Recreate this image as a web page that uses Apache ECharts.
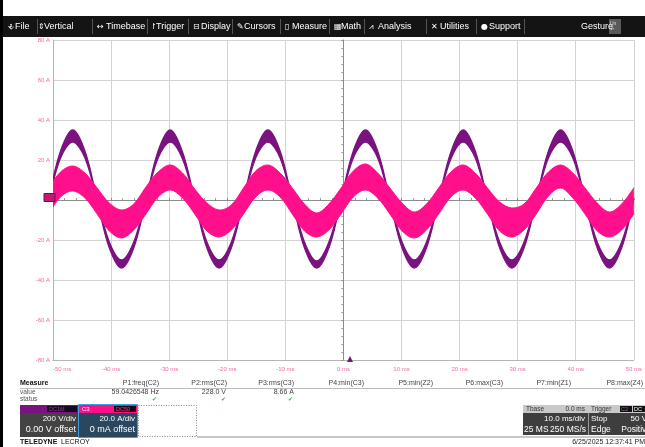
<!DOCTYPE html>
<html>
<head>
<meta charset="utf-8">
<script src="https://cdn.jsdelivr.net/npm/echarts@6/dist/echarts.min.js"></script>
<style>
html,body{margin:0;padding:0;background:#fff;}
#chart{width:645px;height:447px;}
</style>
</head>
<body>
<div id="chart"></div>
<script>
// ---- Data (time in ms, values on the A scale) ----
const timeMs = [-50.8,-48.7,-46.6,-44.5,-42.4,-40.3,-38.2,-36.1,
  -34.0,-31.9,-29.8,-27.7,-25.6,-23.5,-21.4,-19.3,
  -17.2,-15.1,-13.0,-10.9,-8.8,-6.7,-4.6,-2.5,
  -0.4,1.7,3.8,5.9,8.0,10.1,12.2,14.3,
  16.4,18.5,20.6,22.7,24.8,26.9,29.0,31.1,
  33.2,35.3,37.4,39.5,41.6,43.7,45.8,47.9,
  50.0,52.1];
// C2 (voltage, purple) outer/inner envelope of the noisy trace
const c2Hi = [0.6,24.5,35.0,24.5,0.6,-21.0,-30.0,-21.0,
  0.5,24.5,35.0,24.0,0.6,-21.0,-30.0,-21.0,
  0.6,24.5,35.0,24.5,0.5,-21.0,-30.5,-21.0,
  0.6,24.5,35.0,24.5,0.6,-21.0,-30.0,-21.0,
  0.6,24.0,35.0,24.5,0.6,-21.0,-30.0,-21.0,
  0.6,24.5,35.0,24.5,0.6,-21.0,-30.0,-21.0,
  0.6,24.5];
const c2Lo = [-0.6,21.0,29.0,21.0,-0.6,-24.0,-34.0,-24.0,
  -0.5,21.0,29.0,20.5,-0.6,-24.0,-34.0,-24.0,
  -0.6,21.0,29.0,21.0,-0.5,-24.0,-34.0,-24.0,
  -0.6,21.0,29.0,21.0,-0.6,-24.0,-34.0,-24.0,
  -0.6,20.5,29.0,21.0,-0.6,-24.0,-34.0,-24.0,
  -0.6,21.0,29.0,21.0,-0.6,-24.0,-34.0,-24.0,
  -0.6,21.0];
// C3 (current, pink) upper/lower envelope of the noisy band
const c3Hi = [6.0,14.0,17.0,13.5,6.0,-1.5,-5.0,-2.0,
  6.5,14.0,17.5,13.5,5.5,-1.5,-5.0,-2.5,
  6.0,14.5,17.5,13.5,6.0,-2.0,-6.5,-2.0,
  6.0,14.5,18.0,13.5,6.0,-1.5,-6.0,-2.0,
  6.0,14.0,17.5,13.5,6.0,-1.0,-4.0,-2.0,
  6.0,14.0,17.5,13.5,6.0,-1.5,-6.0,-2.0,
  6.0,14.0];
const c3Lo = [-7.0,1.5,4.5,1.0,-7.0,-15.5,-19.0,-15.0,
  -7.0,1.5,5.0,1.0,-7.0,-15.5,-18.5,-15.0,
  -7.0,1.5,5.0,1.5,-7.0,-15.5,-18.5,-15.0,
  -7.0,1.5,5.0,1.0,-7.0,-15.5,-19.0,-15.0,
  -7.0,1.5,5.0,1.0,-7.0,-15.5,-18.5,-15.0,
  -7.0,2.0,6.0,1.0,-7.0,-15.5,-18.5,-15.0,
  -7.0,1.5];
const xTickLabels = ['-50 ms','-40 ms','-30 ms','-20 ms','-10 ms','0 ms','10 ms','20 ms','30 ms','40 ms','50 ms'];
const yTickLabels = ['-80 A','-60 A','-40 A','-20 A','0','20 A','40 A','60 A','80 A'];
const menuItems = [['\u2380','File',8,15],['\u21D5','Vertical',38,44],['\u2194','Timebase',97,106],['\u21BE','Trigger',150,156],
  ['\u229F','Display',193,201],['\u270E','Cursors',237,244],['\u25AF','Measure',285,292],['\u25A6','Math',334,341],
  ['\u2A58','Analysis',369,378],['\u2715','Utilities',431,440],['\u25CF','Support',481,489]];
const menuSeps = [37,92,147,188,232,280,329,364,426,476,524];
const measHeaders = [['P1:freq(C2)',159],['P2:rms(C2)',227],['P3:rms(C3)',294],['P4:min(C3)',364],['P5:min(Z2)',433],['P6:max(C3)',503],['P7:min(Z1)',571],['P8:max(Z4)',643]];
const measValues = [['59.0426548 Hz',159],['228.0 V',226],['8.66 A',294]];

const PURPLE = '#7a137f', PINK = '#ff0f8b', LBL = '#f06aa6';
const FONT = "'Liberation Sans Narrow','Liberation Sans',Arial,sans-serif";

function bandSeries(name, lo, hi, color, lw, z) {
  return {
    name: name, type: 'custom', coordinateSystem: 'cartesian2d', xAxisIndex: 0, yAxisIndex: 0,
    silent: true, z: z,
    data: timeMs.map((t, i) => [t, lo[i], hi[i]]),
    encode: { x: 0, y: [1, 2] },
    renderItem: function (params, api) {
      if (params.dataIndexInside !== 0) return null;
      const n = params.dataInsideLength;
      const up = [], dn = [];
      for (let j = 0; j < n; j++) {
        const t = api.value(0, j);
        up.push(api.coord([t, api.value(2, j)]));
        dn.push(api.coord([t, api.value(1, j)]));
      }
      const rev = dn.slice().reverse();
      const pts = [up[0]].concat(up, [up[n - 1]], rev, [dn[0]]);
      const cs = params.coordSys;
      return {
        type: 'group',
        clipPath: { type: 'rect', shape: { x: cs.x, y: cs.y, width: cs.width, height: cs.height } },
        children: [{
          type: 'polygon', shape: { points: pts, smooth: 0.35 },
          style: { fill: color, stroke: color, lineWidth: lw }
        }]
      };
    }
  };
}

function T(x, y, text, o) {
  o = o || {};
  return { type: 'text', x: x, y: y, z: 100, silent: true,
    style: { text: text, fill: o.fill || '#222', fontSize: o.size || 7, fontFamily: o.family || FONT,
      fontWeight: o.weight || 'normal', align: o.align || 'left', textAlign: o.align || 'left',
      verticalAlign: 'middle', textVerticalAlign: 'middle' } };
}
function R(x, y, w, h, fill, stroke, lw, dash) {
  return { type: 'rect', z: 90, silent: true, shape: { x: x, y: y, width: w, height: h },
    style: { fill: fill || 'none', stroke: stroke || 'none', lineWidth: lw || 0, lineDash: dash || null } };
}
function L(x1, y1, x2, y2, color, lw) {
  return { type: 'line', z: 90, silent: true, shape: { x1: x1, y1: y1, x2: x2, y2: y2 },
    style: { stroke: color, lineWidth: lw || 1 } };
}

const g = [];
g.push(R(0, 0, 3, 447, '#000'));
g.push(R(3, 16, 642, 21, '#141414'));
menuItems.forEach(m => {
  g.push(T(m[2], 26.5, m[0], { fill: '#fff', size: 8, family: "'DejaVu Sans',sans-serif" }));
  g.push(T(m[3], 26.5, m[1], { fill: '#fff', size: 9 }));
});
menuSeps.forEach(x => g.push(L(x + 0.5, 19, x + 0.5, 34, '#555', 1)));
g.push(T(581, 26.5, 'Gesture', { fill: '#fff', size: 9 }));
g.push(R(609, 19, 12, 15, '#5a5a5a'));
g.push(T(610, 24, 'Un', { fill: '#ddd', size: 5 }));
g.push(T(610, 30, '\u21B6', { fill: '#ddd', size: 5, family: "'DejaVu Sans',sans-serif" }));

// ground marker & trigger marker
g.push(R(44, 193.5, 11, 8, '#c4196f', '#6b0a6e', 1));
g.push({ type: 'polygon', z: 95, silent: true, shape: { points: [[347, 362], [353, 362], [350, 356]] }, style: { fill: '#7a137f' } });

// measure table
g.push(T(20, 383, 'Measure', { weight: 'bold', size: 7, fill: '#111' }));
measHeaders.forEach(h => g.push(T(h[1], 383, h[0], { align: 'right', size: 7, fill: '#444' })));
g.push(L(20, 388.5, 645, 388.5, '#bbb', 1));
g.push(T(20, 392, 'value', { size: 6.5, fill: '#555' }));
g.push(T(20, 399, 'status', { size: 6.5, fill: '#555' }));
measValues.forEach(v => g.push(T(v[1], 392, v[0], { align: 'right', size: 7, fill: '#444' })));
[157, 226, 293].forEach(x => g.push(T(x, 399, '\u2714', { align: 'right', size: 6, fill: '#3cb43c', family: "'DejaVu Sans',sans-serif" })));

// channel C2
g.push(R(20, 405, 58, 8, PURPLE));
g.push(R(47, 406, 30, 6, '#1a0820'));
g.push(T(49, 409.5, 'DC1M', { size: 5.5, fill: '#9a3aa0' }));
g.push(R(20, 413, 58, 24, '#434343'));
g.push(T(76, 419, '200 V/div', { align: 'right', size: 8, fill: '#fff' }));
g.push(T(76, 430, '0.00 V offset', { align: 'right', size: 9, fill: '#fff' }));
// channel C3
g.push(R(79, 405, 58, 8, PINK));
g.push(T(82, 409.5, 'C3', { size: 6, fill: '#fff' }));
g.push(R(114, 406, 22, 6, '#1a0510'));
g.push(T(116, 409.5, 'DC50', { size: 5.5, fill: '#ff3a9a' }));
g.push(R(79, 413, 58, 24, '#2b475f'));
g.push(R(78.5, 404.5, 59, 33, null, '#3d9ee0', 1));
g.push(T(135, 419, '20.0 A/div', { align: 'right', size: 8, fill: '#fff' }));
g.push(T(135, 430, '0 mA offset', { align: 'right', size: 9, fill: '#fff' }));
// empty dotted slot
g.push(R(138.5, 405.5, 58, 31, null, '#888', 1, [1, 1.5]));
g.push(L(197, 437, 645, 437, '#c8c8c8', 2));

// timebase / trigger box
g.push(R(523, 405, 122, 8, '#c9c9c9'));
g.push(T(526, 409.5, 'Tbase', { size: 6.5, fill: '#333' }));
g.push(T(585, 409.5, '0.0 ms', { align: 'right', size: 6.5, fill: '#333' }));
g.push(T(591, 409.5, 'Trigger', { size: 6.5, fill: '#333' }));
g.push(R(620, 406, 12, 6, '#111'));
g.push(T(621, 409.5, 'C2', { size: 5.5, fill: '#b050b8' }));
g.push(R(633, 406, 12, 6, '#111'));
g.push(T(634, 409.5, 'DC', { size: 5.5, fill: '#fff' }));
g.push(R(523, 413, 122, 22, '#3e3e3e'));
g.push(L(588.5, 413, 588.5, 435, '#999', 1));
g.push(T(585, 419, '10.0 ms/div', { align: 'right', size: 8, fill: '#fff' }));
g.push(T(524, 429.5, '25 MS', { size: 8.5, fill: '#fff' }));
g.push(T(586, 429.5, '250 MS/s', { align: 'right', size: 8.5, fill: '#fff' }));
g.push(T(591, 419, 'Stop', { size: 8, fill: '#fff' }));
g.push(T(647, 419, '50 V', { align: 'right', size: 8, fill: '#fff' }));
g.push(T(591, 429.5, 'Edge', { size: 8.5, fill: '#fff' }));
g.push(T(651, 429.5, 'Positive', { align: 'right', size: 8.5, fill: '#fff' }));

// footer
g.push(T(20, 442, 'TELEDYNE', { weight: 'bold', size: 7, fill: '#111' }));
g.push(T(61, 442, 'LECROY', { size: 7, fill: '#111' }));
g.push(T(645, 442, '6/25/2025 12:37:41 PM', { align: 'right', size: 7, fill: '#222' }));

const chart = echarts.init(document.getElementById('chart'), null, { renderer: 'canvas' });
chart.setOption({
  animation: false,
  backgroundColor: '#ffffff',
  grid: { left: 53, top: 40, width: 592, height: 320, containLabel: false },
  xAxis: [{
    type: 'value', min: -50, max: 50, interval: 10, position: 'bottom',
    axisLine: { show: true, onZero: false, lineStyle: { color: '#b5b5b5', width: 1 } },
    axisTick: { show: false },
    axisLabel: { color: LBL, fontSize: 6, fontFamily: FONT, margin: 6, showMinLabel: true, showMaxLabel: true,
      alignMinLabel: 'left', formatter: v => xTickLabels[Math.round((v + 50) / 10)] },
    splitLine: { show: true, lineStyle: { color: '#d3d3d3', width: 1 } }
  }, {
    type: 'value', min: -50, max: 50, interval: 10, position: 'bottom',
    axisLine: { show: true, onZero: true, onZeroAxisIndex: 0, lineStyle: { color: '#8c8c8c', width: 1 } },
    axisTick: { show: true, inside: true, length: 2, lineStyle: { color: '#8c8c8c' } },
    minorTick: { show: true, splitNumber: 5, length: 2, lineStyle: { color: '#9a9a9a' } },
    axisLabel: { show: false }, splitLine: { show: false }
  }],
  yAxis: [{
    type: 'value', min: -80, max: 80, interval: 20,
    axisLine: { show: true, onZero: false, lineStyle: { color: '#b5b5b5', width: 1 } },
    axisTick: { show: false },
    axisLabel: { color: LBL, fontSize: 6, fontFamily: FONT, margin: 3,
      formatter: v => yTickLabels[Math.round((v + 80) / 20)] },
    splitLine: { show: true, lineStyle: { color: '#d3d3d3', width: 1 } }
  }, {
    type: 'value', min: -80, max: 80, interval: 20,
    axisLine: { show: true, onZero: true, onZeroAxisIndex: 0, lineStyle: { color: '#8c8c8c', width: 1 } },
    axisTick: { show: true, inside: true, length: 2, lineStyle: { color: '#8c8c8c' } },
    minorTick: { show: true, splitNumber: 5, length: 2, lineStyle: { color: '#9a9a9a' } },
    axisLabel: { show: false }, splitLine: { show: false }
  }],
  series: [bandSeries('C2', c2Lo, c2Hi, PURPLE, 1.3, 3), bandSeries('C3', c3Lo, c3Hi, PINK, 1, 4)],
  graphic: { elements: g }
});
</script>
</body>
</html>
